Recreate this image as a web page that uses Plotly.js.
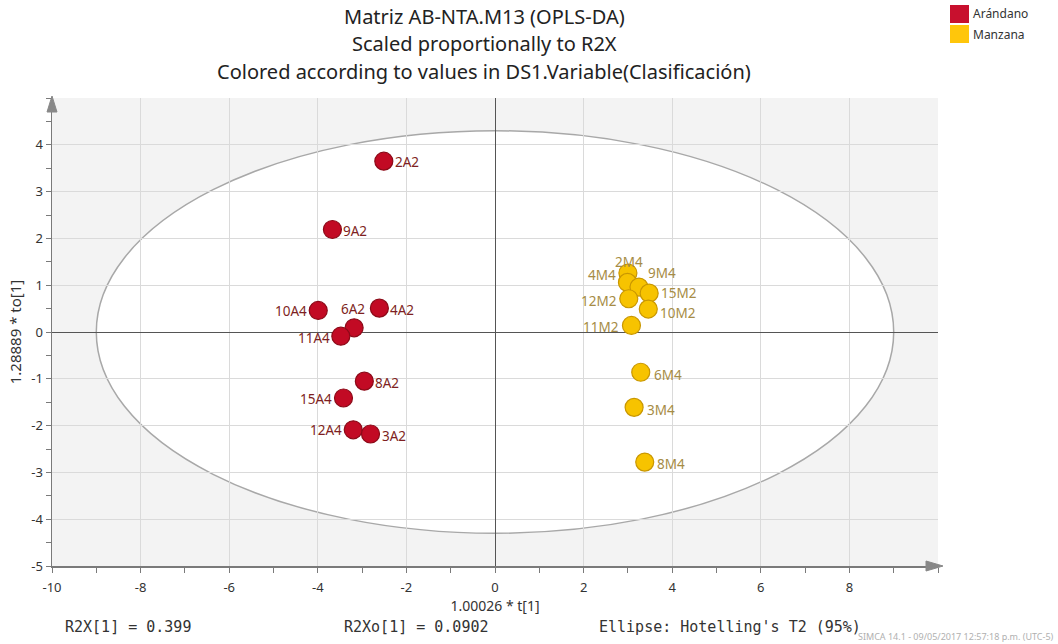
<!DOCTYPE html>
<html>
<head>
<meta charset="utf-8">
<script src="https://cdn.plot.ly/plotly-3.0.1.min.js"></script>
<style>
  html, body { margin: 0; padding: 0; background: #ffffff; }
  #chart { width: 1058px; height: 644px; }
</style>
</head>
<body>
<div id="chart"></div>
<script>
// OPLS-DA score plot: predictive component t[1] vs orthogonal component to[1]

// Arándano observations
const aranNames = ['2A2', '9A2', '10A4', '4A2', '6A2', '11A4', '8A2', '15A4', '12A4', '3A2'];
const aranT     = [-2.51, -3.67, -3.99, -2.61, -3.18, -3.48, -2.95, -3.42, -3.20, -2.81];
const aranTo    = [3.65, 2.19, 0.46, 0.51, 0.09, -0.09, -1.05, -1.41, -2.09, -2.18];

// Manzana observations
const manzNames = ['2M4', '4M4', '9M4', '15M2', '12M2', '10M2', '11M2', '6M4', '3M4', '8M4'];
const manzT     = [3.00, 2.99, 3.25, 3.48, 3.02, 3.46, 3.08, 3.29, 3.14, 3.38];
const manzTo    = [1.26, 1.06, 0.96, 0.83, 0.71, 0.49, 0.14, -0.86, -1.61, -2.78];

// Hotelling's T2 (95%) ellipse semi-axes
const ellipseA = 9.0;
const ellipseB = 4.3;

// Model statistics shown under the plot
const r2x = 0.399;
const r2xo = 0.0902;

// Tick labels
const xTicks = [-10, -8, -6, -4, -2, 0, 2, 4, 6, 8];
const yTicks = [-5, -4, -3, -2, -1, 0, 1, 2, 3, 4];

// Label placement for each observation: side (r = right, l = left, t = above) and pixel nudge [dx, dy]
const aranLabelSide  = ['r', 'r', 'l', 'r', 't', 'l', 'r', 'l', 'l', 'r'];
const aranLabelNudge = [[10, 1], [10, 1], [-10, 1], [10, 2], [-1, -19], [-10, 2], [10, 2], [-10, 1], [-10, 0], [10, 2]];
const manzLabelSide  = ['t', 'l', 'r', 'r', 'l', 'r', 'l', 'r', 'r', 'r'];
const manzLabelNudge = [[1, -11], [-10, -7], [8, -14], [11, 0], [-11, 2], [11, 4], [-11, 2], [12, 3], [12, 3], [11, 2]];

const FONT = 'Noto Sans, Open Sans, sans-serif';
const MONO = 'DejaVu Sans Mono, Liberation Mono, monospace';

// plot area in pixels
const L = 52, R = 938, T = 98, B = 566;
const px = p => (p - L) / (R - L);
const py = p => (B - p) / (B - T);

const aranTrace = {
  type: 'scatter', mode: 'markers', name: 'Arándano',
  x: aranT, y: aranTo, text: aranNames,
  marker: { size: 18, color: '#c20a24', line: { color: '#8c0a18', width: 1.2 } },
  cliponaxis: false, showlegend: false, hoverinfo: 'text+x+y'
};

const manzTrace = {
  type: 'scatter', mode: 'markers', name: 'Manzana',
  x: manzT, y: manzTo, text: manzNames,
  marker: { size: 18, color: '#f7c300', line: { color: '#c99700', width: 1.2 } },
  cliponaxis: false, showlegend: false, hoverinfo: 'text+x+y'
};

// observation name labels placed next to each marker
function pointLabels(names, xs, ys, sides, nudges, color) {
  return names.map((n, i) => ({
    xref: 'x', yref: 'y', x: xs[i], y: ys[i], text: n, showarrow: false,
    xanchor: sides[i] === 'r' ? 'left' : (sides[i] === 'l' ? 'right' : 'center'),
    yanchor: 'middle',
    xshift: nudges[i][0], yshift: -nudges[i][1],
    borderpad: 0,
    font: { family: FONT, size: 13.5, color: color }
  }));
}

const axisCommon = {
  showline: true, linecolor: '#7a7a7a', linewidth: 1.5,
  ticks: 'outside', tickcolor: '#7a7a7a', ticklen: 5, tickwidth: 1,
  showgrid: true, gridcolor: '#dadada', gridwidth: 1,
  zeroline: true, zerolinecolor: '#555555', zerolinewidth: 1,
  tickfont: { family: FONT, size: 13, color: '#333333' },
  fixedrange: true
};

const layout = {
  width: 1058, height: 644,
  margin: { l: L, r: 1058 - R, t: T, b: 644 - B },
  paper_bgcolor: '#ffffff',
  plot_bgcolor: '#f3f3f3',
  font: { family: FONT, color: '#333333' },
  xaxis: Object.assign({}, axisCommon, {
    range: [-10, 10], tickmode: 'array', tickvals: xTicks, ticktext: xTicks.map(String),
    ticklabelstandoff: 4,
    minor: { dtick: 1, tick0: 0, ticks: 'outside', ticklen: 5, tickcolor: '#7a7a7a', showgrid: false },
    title: { text: '1.00026 * t[1]', font: { family: FONT, size: 14, color: '#333333' }, standoff: 5 }
  }),
  yaxis: Object.assign({}, axisCommon, {
    range: [-5, 5], tickmode: 'array', tickvals: yTicks, ticktext: yTicks.map(String),
    minor: { dtick: 0.5, tick0: 0, ticks: 'outside', ticklen: 5, tickcolor: '#7a7a7a', showgrid: false },
    title: { text: '1.28889 * to[1]', font: { family: FONT, size: 15, color: '#333333' }, standoff: 6 }
  }),
  shapes: [
    {
      type: 'circle', xref: 'x', yref: 'y', layer: 'below',
      x0: -ellipseA, x1: ellipseA, y0: -ellipseB, y1: ellipseB,
      fillcolor: '#ffffff', line: { color: '#a8a8a8', width: 1.5 }
    },
    // axis arrow heads
    { type: 'path', xref: 'paper', yref: 'paper', xsizemode: 'pixel', ysizemode: 'pixel',
      xanchor: 1, yanchor: 0, path: 'M -12,-5 L 5,0 L -12,5 Z',
      fillcolor: '#888888', line: { color: '#888888', width: 1 } },
    { type: 'path', xref: 'paper', yref: 'paper', xsizemode: 'pixel', ysizemode: 'pixel',
      xanchor: 0, yanchor: 1, path: 'M -5,-14 L 0,2 L 5,-14 Z',
      fillcolor: '#888888', line: { color: '#888888', width: 1 } },
    // legend swatches
    { type: 'rect', xref: 'paper', yref: 'paper', x0: px(950), x1: px(969), y0: py(23), y1: py(5),
      fillcolor: '#c8102e', line: { width: 0 } },
    { type: 'rect', xref: 'paper', yref: 'paper', x0: px(950), x1: px(969), y0: py(43), y1: py(25),
      fillcolor: '#ffc60b', line: { width: 0 } }
  ],
  annotations: [
    // title lines
    { xref: 'paper', yref: 'paper', x: px(484), y: py(17), xanchor: 'center', yanchor: 'middle',
      text: 'Matriz AB-NTA.M13 (OPLS-DA)', showarrow: false, font: { family: FONT, size: 20, color: '#222222' } },
    { xref: 'paper', yref: 'paper', x: px(484), y: py(44), xanchor: 'center', yanchor: 'middle',
      text: 'Scaled proportionally to R2X', showarrow: false, font: { family: FONT, size: 20, color: '#222222' } },
    { xref: 'paper', yref: 'paper', x: px(484), y: py(72), xanchor: 'center', yanchor: 'middle',
      text: 'Colored according to values in DS1.Variable(Clasificación)', showarrow: false,
      font: { family: FONT, size: 20, color: '#222222' } },
    // legend labels
    { xref: 'paper', yref: 'paper', x: px(971), y: py(14), xanchor: 'left', yanchor: 'middle',
      text: 'Arándano', showarrow: false, font: { family: FONT, size: 12, color: '#333333' } },
    { xref: 'paper', yref: 'paper', x: px(971), y: py(34), xanchor: 'left', yanchor: 'middle',
      text: 'Manzana', showarrow: false, font: { family: FONT, size: 12, color: '#333333' } },
    // model statistics
    { xref: 'paper', yref: 'paper', x: px(63), y: py(627), xanchor: 'left', yanchor: 'middle',
      text: 'R2X[1] = ' + r2x, showarrow: false, font: { family: MONO, size: 15, color: '#333333' } },
    { xref: 'paper', yref: 'paper', x: px(342), y: py(627), xanchor: 'left', yanchor: 'middle',
      text: 'R2Xo[1] = ' + r2xo, showarrow: false, font: { family: MONO, size: 15, color: '#333333' } },
    { xref: 'paper', yref: 'paper', x: px(597), y: py(627), xanchor: 'left', yanchor: 'middle',
      text: "Ellipse: Hotelling's T2 (95%)", showarrow: false, font: { family: MONO, size: 15, color: '#333333' } },
    { xref: 'paper', yref: 'paper', x: px(1056), y: py(636), xanchor: 'right', yanchor: 'middle',
      text: 'SIMCA 14.1 - 09/05/2017 12:57:18 p.m. (UTC-5)', showarrow: false,
      font: { family: FONT, size: 9, color: '#b0b0b0' } }
  ]
    .concat(pointLabels(aranNames, aranT, aranTo, aranLabelSide, aranLabelNudge, '#7e1f22'))
    .concat(pointLabels(manzNames, manzT, manzTo, manzLabelSide, manzLabelNudge, '#a68c45')),
  showlegend: false
};

Plotly.newPlot('chart', [aranTrace, manzTrace], layout, { displayModeBar: false, staticPlot: true });
</script>
</body>
</html>
